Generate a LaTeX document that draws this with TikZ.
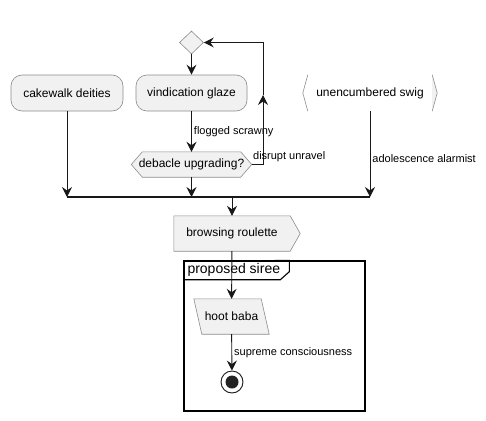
\documentclass[tikz,border=0pt]{standalone}
\usepackage{fontspec}
\setmainfont{Liberation Sans}
\usetikzlibrary{arrows.meta,positioning,shapes.geometric,backgrounds}
\definecolor{umlfill}{HTML}{F1F1F1}
\definecolor{umlline}{HTML}{181818}
\definecolor{umlborder}{HTML}{8C8C8C}

\begin{document}
\begin{tikzpicture}[x=1pt,y=-1pt,font=\fontsize{12}{14}\selectfont,
    act/.style={draw=umlborder,fill=umlfill,rounded corners=11pt,line width=.6pt,minimum height=36pt,inner sep=0pt},
    bare/.style={minimum height=#1,inner sep=0pt},
    outline/.style={draw=umlborder,fill=umlfill,line width=.6pt},
    flow/.style={draw=umlline,line width=.9pt,-{Stealth[length=10pt,width=10pt,inset=3.5pt]}},
    plain/.style={draw=umlline,line width=.9pt},
    lbl/.style={font=\fontsize{11}{13}\selectfont,inner sep=2pt}]
        \useasboundingbox (0,0) rectangle (486,420);

        \node[diamond,outline,minimum width=24pt,minimum height=23pt,inner sep=0pt] (merge) at (191.5,42.5) {};
        \node[act,minimum width=112pt] (cake) at (67,93) {cakewalk deities};
        \node[act,minimum width=111pt] (vind) at (191.5,93) {vindication glaze};
        \node[bare=36pt,minimum width=134pt] (swig) at (370,93) {unencumbered swig};
        \node[bare=25pt,minimum width=120pt] (ask) at (191.5,164.5) {debacle upgrading?};
        \node[bare=35pt,minimum width=116pt] (browse) at (232,233.5) {browsing roulette};
        \node[bare=150pt,minimum width=181pt,draw=black,line width=1.4pt] (frame) at (274.5,336) {};
        \node[anchor=north west,font=\fontsize{14}{16}\selectfont,minimum height=19pt,inner xsep=4pt,inner ysep=0pt] (title) at (frame.north west) {proposed siree};
        \node[bare=35pt,minimum width=59pt] (hoot) at (231.5,316.5) {hoot baba};
        \node[circle,draw=umlline,fill=white,line width=.9pt,minimum size=22pt,inner sep=0pt] (stop) at (232,382) {};
        \fill[umlline!95] (stop.center) circle (6.5pt);

        \begin{scope}[on background layer]
          \draw[outline] ([xshift=11pt]ask.north west) -- ([xshift=-11pt]ask.north east) -- (ask.east)
            -- ([xshift=-11pt]ask.south east) -- ([xshift=11pt]ask.south west) -- (ask.west) -- cycle;
          \draw[outline] (browse.north west) -- (browse.north east) -- ([xshift=10pt]browse.east)
            -- (browse.south east) -- (browse.south west) -- cycle;
          \draw[outline] ([xshift=-8pt]hoot.north west) -- (hoot.north east) -- ([xshift=8pt]hoot.south east)
            -- (hoot.south west) -- cycle;
          \fill[umlfill] ([xshift=-5pt]swig.north east) -- (swig.east) -- ([xshift=-5pt]swig.south east) -- cycle;
        \end{scope}
        \draw[umlborder,line width=.6pt] ([xshift=5pt]swig.north west) -- (swig.west) -- ([xshift=5pt]swig.south west);
        \draw[umlborder,line width=.6pt] ([xshift=-5pt]swig.north east) -- (swig.east) -- ([xshift=-5pt]swig.south east);
        \draw[black,line width=1.1pt] (title.south west) -- ([xshift=-4pt]title.south east) -- ++(9,-8) |- (frame.north);

        \coordinate (joinL) at (67,197);
        \coordinate (joinR) at (370,197);
        \coordinate (split) at (232,197);
        \coordinate (back) at (263,164.5);
        \coordinate (backup) at (263,95);

        \draw[flow] (merge) -- (vind);
        \draw[flow] (vind) -- node[lbl,right] {flogged scrawny} (ask);
        \draw[flow] (ask.east) -- node[lbl,anchor=south west,pos=0,xshift=-1pt] {disrupt unravel} (back) -- (backup);
        \draw[flow] (backup) |- (merge.east);
        \draw[flow] (cake) -- (cake |- joinL);
        \draw[flow] (ask) -- (ask |- joinL);
        \draw[flow] (swig) -- node[lbl,right,pos=.55] {adolescence alarmist} (joinR);
        \draw[umlline,line width=2pt] (joinL) -- (joinR);
        \draw[flow] (split) -- (browse);
        \draw[flow] (browse) -- (hoot);
        \draw[flow] (hoot) -- node[lbl,right] {supreme consciousness} (stop);
      \end{tikzpicture}
\end{document}
